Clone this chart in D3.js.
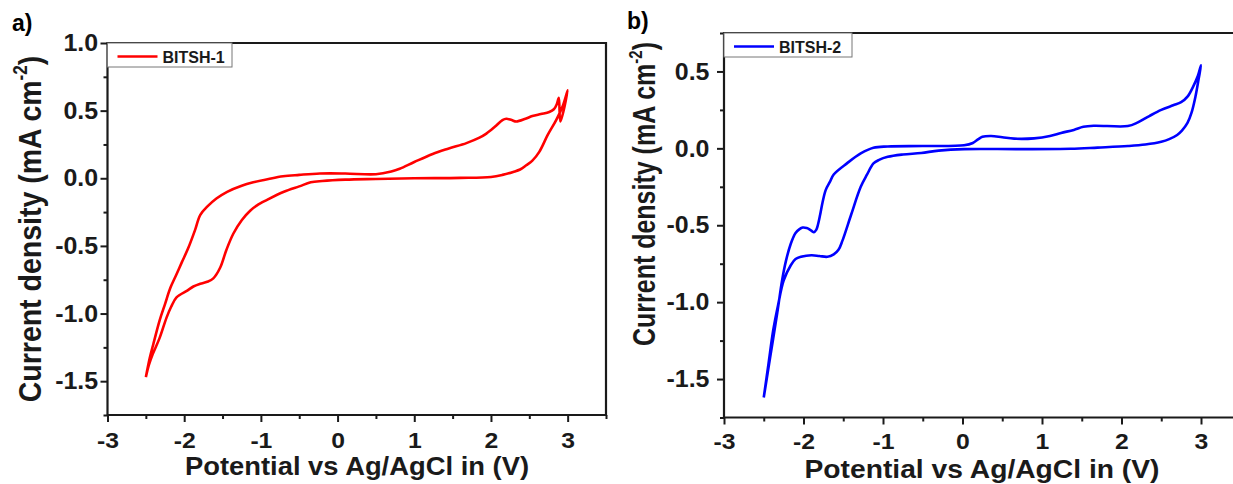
<!DOCTYPE html>
<html>
<head>
<meta charset="utf-8">
<script src="https://cdn.jsdelivr.net/npm/d3@7"></script>
<style>
body { margin: 0; background: #fff; }
svg { display: block; font-family: "Liberation Sans", Arial, sans-serif; font-weight: bold; }
</style>
</head>
<body>
<svg id="chart" width="1233" height="484"></svg>
<script>
/* global d3 */

const potentialTicks = [-3, -2, -1, 0, 1, 2, 3];
const potentialLabels = ['-3', '-2', '-1', '0', '1', '2', '3'];
const currentTicksA = [-1.5, -1, -0.5, 0, 0.5, 1];
const currentLabelsA = ['-1.5', '-1.0', '-0.5', '0.0', '0.5', '1.0'];
const currentTicksB = [-1.5, -1, -0.5, 0, 0.5];
const currentLabelsB = ['-1.5', '-1.0', '-0.5', '0.0', '0.5'];
const seriesNames = ['BITSH-1', 'BITSH-2'];
const seriesColors = ['#ff0000', '#0000ff'];
const panelTags = ['a)', 'b)'];

// BITSH-1 loop: anodic sweep from -2.5 V, turn at 3 V, cathodic sweep back
const bitsh1Potential = [
    -2.50, -2.45, -2.40, -2.32, -2.25, -2.18, -2.10, -2.03, -1.95, -1.86, -1.79, -1.70, -1.58, -1.44,
    -1.25, -1.10, -0.90, -0.71, -0.50, -0.23, 0.10, 0.50, 0.70, 0.81, 1.00, 1.24, 1.45, 1.68, 1.85,
    1.94, 2.05, 2.15, 2.20, 2.27, 2.33, 2.45, 2.54, 2.65, 2.76, 2.82, 2.86, 2.885, 2.905, 3.00,
    2.94, 2.85, 2.74, 2.63, 2.54, 2.46, 2.38, 2.29, 2.15, 2.00, 1.60, 1.00, 0.50, 0.10, -0.20, -0.35,
    -0.50, -0.70, -0.92, -1.05, -1.14, -1.25, -1.36, -1.45, -1.53, -1.62, -1.70, -1.79, -1.88, -1.96,
    -2.10, -2.17, -2.23, -2.32, -2.41, -2.46, -2.50
];
const bitsh1Current = [
    -1.47, -1.33, -1.22, -1.05, -0.93, -0.81, -0.71, -0.62, -0.52, -0.385, -0.27, -0.21, -0.15, -0.10,
    -0.055, -0.03, -0.005, 0.015, 0.025, 0.035, 0.035, 0.03, 0.05, 0.07, 0.12, 0.18, 0.22, 0.26, 0.30,
    0.33, 0.38, 0.43, 0.44, 0.43, 0.42, 0.44, 0.46, 0.475, 0.49, 0.51, 0.55, 0.595, 0.42, 0.65,
    0.54, 0.43, 0.32, 0.195, 0.13, 0.096, 0.065, 0.047, 0.025, 0.01, 0.003, 0.0, -0.005, -0.01, -0.02, -0.03,
    -0.06, -0.10, -0.16, -0.20, -0.24, -0.31, -0.41, -0.53, -0.66, -0.74, -0.765, -0.78, -0.80, -0.83,
    -0.88, -0.95, -1.03, -1.18, -1.30, -1.38, -1.47
];

// BITSH-2 loop
const bitsh2Potential = [
    -2.50, -2.42, -2.33, -2.27, -2.22, -2.16, -2.10, -2.05, -2.01, -1.96, -1.93, -1.89, -1.87, -1.84,
    -1.82, -1.79, -1.76, -1.72, -1.67, -1.62, -1.45, -1.28, -1.12, -0.94, -0.50, 0.02, 0.13, 0.20, 0.25,
    0.36, 0.50, 0.65, 0.90, 1.10, 1.24, 1.40, 1.52, 1.65, 2.08, 2.20, 2.35, 2.50, 2.65, 2.75, 2.83,
    2.90, 2.96, 3.00,
    2.97, 2.93, 2.88, 2.83, 2.76, 2.70, 2.60, 2.50, 2.30, 2.08, 1.70, 1.36, 0.70, 0.02, -0.30, -0.52,
    -0.75, -0.94, -1.05, -1.12, -1.20, -1.28, -1.40, -1.51, -1.56, -1.62, -1.70, -1.80, -1.90, -2.03,
    -2.10, -2.16, -2.25, -2.32, -2.38, -2.44, -2.50
];
const bitsh2Current = [
    -1.62, -1.36, -1.07, -0.86, -0.73, -0.62, -0.55, -0.525, -0.515, -0.518, -0.525, -0.54, -0.545, -0.53,
    -0.50, -0.43, -0.35, -0.27, -0.22, -0.17, -0.096, -0.033, 0.004, 0.012, 0.015, 0.02, 0.035, 0.06, 0.075,
    0.08, 0.072, 0.063, 0.065, 0.08, 0.10, 0.12, 0.14, 0.147, 0.145, 0.167, 0.21, 0.25, 0.28, 0.30, 0.336,
    0.40, 0.47, 0.54,
    0.45, 0.336, 0.23, 0.165, 0.115, 0.087, 0.06, 0.043, 0.025, 0.015, 0.005, -0.003, -0.005, -0.005, -0.015, -0.03,
    -0.04, -0.055, -0.075, -0.098, -0.17, -0.25, -0.43, -0.60, -0.66, -0.69, -0.705, -0.70, -0.695, -0.705,
    -0.72, -0.76, -0.86, -1.02, -1.18, -1.40, -1.62
];

const svg = d3.select('#chart');
const ink = '#1a1a1a';

const panels = [
    {
        left: 107.5, right: 606, top: 43, bottom: 415,
        yDomain: [-1.75, 1.0], yTicks: currentTicksA, yLabels: currentLabelsA,
        V: bitsh1Potential, J: bitsh1Current, name: seriesNames[0], color: seriesColors[0], tag: panelTags[0],
        tagX: 12, tagY: 31, xPad: 10, yPad: 2,
        xTitle: { cx: 357, base: 475, size: 25, sx: 1.095 },
        yTitle: { cy: 229, base: 41, size: 28.5, sy: 1.13 },
        legend: { x0: 107.5, x1: 232, y0: 43, y1: 67 }
    },
    {
        left: 724, right: 1240.75, top: 33, bottom: 417.5,
        yDomain: [-1.75, 0.75], yTicks: currentTicksB, yLabels: currentLabelsB,
        V: bitsh2Potential, J: bitsh2Current, name: seriesNames[1], color: seriesColors[1], tag: panelTags[1],
        tagX: 627, tagY: 29, xPad: 8.5, yPad: 7,
        xTitle: { cx: 982, base: 478, size: 25, sx: 1.13 },
        yTitle: { cy: 194, base: 655, size: 25, sy: 1.28 },
        legend: { x0: 724, x1: 852, y0: 33, y1: 57 }
    }
];

const styleAxis = function(sel) {
    sel.select('.domain').remove();
    sel.selectAll('.tick line').attr('stroke', ink).attr('stroke-width', 2);
    sel.selectAll('.tick text').attr('fill', ink).attr('font-family', null).attr('font-weight', 'bold');
};

const drawPanel = function(p) {
    const g = svg.append('g');
    const x = d3.scaleLinear().domain([-3, 3.5]).range([p.left, p.right]);
    const y = d3.scaleLinear().domain(p.yDomain).range([p.bottom, p.top]);

    // minor ticks
    g.append('g')
        .attr('transform', `translate(0,${p.bottom})`)
        .call(d3.axisBottom(x).tickValues(d3.range(-2.5, 3.6, 1)).tickSize(4).tickFormat(''))
        .call(styleAxis);
    g.append('g')
        .attr('transform', `translate(${p.left},0)`)
        .call(d3.axisLeft(y).tickValues(d3.range(p.yDomain[0], p.yDomain[1] + 0.01, 0.5)).tickSize(4).tickFormat(''))
        .call(styleAxis);

    // major ticks and labels
    g.append('g')
        .attr('transform', `translate(0,${p.bottom})`)
        .call(d3.axisBottom(x).tickValues(potentialTicks).tickSize(7).tickPadding(p.xPad)
            .tickFormat((d, i) => potentialLabels[i]))
        .call(styleAxis)
        .call(s => s.selectAll('.tick text').attr('font-size', 22.5).attr('transform', 'scale(1.1,1)'));
    g.append('g')
        .attr('transform', `translate(${p.left},0)`)
        .call(d3.axisLeft(y).tickValues(p.yTicks).tickSize(7).tickPadding(p.yPad)
            .tickFormat((d, i) => p.yLabels[i]))
        .call(styleAxis)
        .call(s => s.selectAll('.tick text').attr('font-size', 24).attr('transform', 'scale(1.04,1)'));

    // frame
    g.append('path')
        .attr('d', `M${p.left},${p.bottom}V${p.top}H${p.right}V${p.bottom}H${p.left}`)
        .attr('fill', 'none')
        .attr('stroke', ink)
        .attr('stroke-width', 2.2);

    // curve
    const line = d3.line()
        .x(i => x(p.V[i]))
        .y(i => y(p.J[i]))
        .curve(d3.curveCatmullRom.alpha(0.5));
    g.append('path')
        .datum(d3.range(p.V.length))
        .attr('d', line)
        .attr('fill', 'none')
        .attr('stroke', p.color)
        .attr('stroke-width', 2.6)
        .attr('stroke-linejoin', 'round');

    // legend
    const lg = p.legend;
    g.append('rect')
        .attr('x', lg.x0).attr('y', lg.y0)
        .attr('width', lg.x1 - lg.x0).attr('height', lg.y1 - lg.y0)
        .attr('fill', '#fff').attr('stroke', '#777').attr('stroke-width', 1);
    const my = (lg.y0 + lg.y1) / 2 + 1.5;
    g.append('line')
        .attr('x1', lg.x0 + 10).attr('x2', lg.x0 + 50)
        .attr('y1', my).attr('y2', my)
        .attr('stroke', p.color).attr('stroke-width', 2.6);
    g.append('text')
        .attr('x', lg.x0 + 55).attr('y', my + 6)
        .attr('font-size', 16).attr('fill', ink)
        .text(p.name);

    // panel tag
    g.append('text')
        .attr('x', p.tagX).attr('y', p.tagY)
        .attr('font-size', 23).attr('fill', '#000')
        .text(p.tag);

    // x title
    const xt = p.xTitle;
    g.append('text')
        .attr('transform', `translate(${xt.cx},${xt.base}) scale(${xt.sx},1)`)
        .attr('text-anchor', 'middle')
        .attr('font-size', xt.size).attr('fill', ink)
        .text('Potential vs Ag/AgCl in (V)');

    // y title
    const yt = p.yTitle;
    const ytext = g.append('text')
        .attr('transform', `translate(${yt.base},${yt.cy}) rotate(-90) scale(1,${yt.sy})`)
        .attr('text-anchor', 'middle')
        .attr('font-size', yt.size).attr('fill', ink);
    ytext.append('tspan').text('Current density (mA cm');
    ytext.append('tspan').attr('font-size', yt.size * 0.6).attr('dy', -yt.size * 0.42).text('-2');
    ytext.append('tspan').attr('dy', yt.size * 0.42).text(')');
};

panels.forEach(drawPanel);
</script>
</body>
</html>
